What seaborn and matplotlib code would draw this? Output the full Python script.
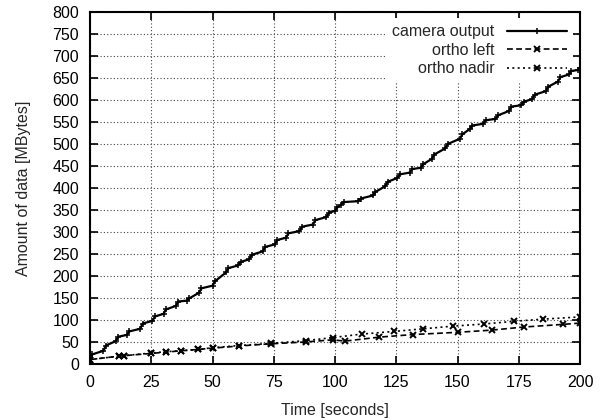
import matplotlib
matplotlib.use("Agg")
import matplotlib.pyplot as plt
import seaborn as sns
import pandas as pd

camera_time = [0, 1, 5.5, 6.5, 10.5, 11.5, 15, 16, 20.5, 21.5, 25.5, 26.5, 30, 31, 35, 36, 39.5, 40.5, 44.5, 45.5,
               50, 51, 55.5, 56.5, 60.5, 61.5, 65, 66, 70.5, 71.5, 75.5, 76.5, 80, 81, 85.5, 86.5, 91, 92, 96.5, 97.5,
               100, 101, 102.5, 103.5, 109.5, 110.5, 115.5, 116.5, 120.5, 121.5, 125.5, 126.5, 130.5, 131.5, 135, 136, 139.5, 140.5, 145, 146,
               151, 152, 155, 156, 160.5, 161.5, 165.5, 166.5, 171, 172, 176, 177, 180.5, 181.5, 186, 187, 191, 192, 195.5, 196.5,
               199, 200]
camera_mb = [18, 22, 30, 42, 52, 62, 66, 74, 80, 92, 98, 108, 114, 124, 132, 142, 144, 149, 162, 172,
             178, 188, 208, 218, 224, 232, 238, 248, 256, 266, 272, 282, 287, 297, 302, 312, 317, 327, 334, 344,
             348, 356, 362, 368, 370, 376, 383, 391, 404, 414, 423, 431, 435, 443, 446, 454, 466, 476, 490, 500,
             512, 522, 534, 542, 546, 554, 557, 565, 575, 585, 588, 596, 602, 612, 620, 630, 642, 652, 658, 666,
             668, 672]

ortho_left_time = [0, 12, 14, 25, 31, 37, 44, 50, 61, 74, 88, 99, 104, 118, 132, 150, 164, 177, 193, 200]
ortho_left_mb = [10, 18, 19, 24, 27, 30, 33, 36, 41, 46, 50, 55, 52, 61, 67, 72, 77, 84, 90, 93]
ortho_nadir_time = [0, 12, 14, 25, 31, 37, 44, 50, 61, 74, 88, 99, 111, 124, 136, 148, 161, 173, 185, 200]
ortho_nadir_mb = [10, 18, 19, 25, 28, 30, 33, 37, 42, 47, 53, 60, 68, 74, 80, 86, 91, 97, 102, 107]

x_ticks = [0, 25, 50, 75, 100, 125, 150, 175, 200]
y_ticks = list(range(0, 801, 50))

sns.set_style("ticks")
plt.rcParams['font.family'] = ['Liberation Sans', 'DejaVu Sans']

fig = plt.figure(figsize=(6.05, 4.18), dpi=100)
ax = fig.add_axes([90/605, 1-364/418, 490/605, 352/418])

asterisk = 'x'
sns.lineplot(x=camera_time, y=camera_mb, ax=ax, color='black', linewidth=1.6, marker='+',
             markersize=4.5, markeredgewidth=1.1, markeredgecolor='black', label='camera output',
             zorder=4, sort=False)
ax.lines[-1].set_linestyle('-')
sns.lineplot(x=ortho_left_time, y=ortho_left_mb, ax=ax, color='black', linewidth=1.2,
             marker=asterisk, markersize=5, markeredgewidth=1.4, markeredgecolor='black',
             label='ortho left', zorder=3, sort=False)
ax.lines[-1].set_linestyle((0, (3.5, 2)))
sns.lineplot(x=ortho_nadir_time, y=ortho_nadir_mb, ax=ax, color='black', linewidth=1.2,
             marker=asterisk, markersize=5, markeredgewidth=1.4, markeredgecolor='black',
             label='ortho nadir', zorder=3, sort=False)
ax.lines[-1].set_linestyle((0, (1.2, 2)))

ax.set_xlim(0, 200)
ax.set_ylim(0, 800)
ax.set_xticks(x_ticks)
ax.set_yticks(y_ticks)
ax.set_xticklabels([str(v) for v in x_ticks])
ax.set_yticklabels([str(v) for v in y_ticks])
ax.tick_params(direction='in', length=6, width=1.2, top=True, right=True, labelsize=11.5, pad=8, colors='black')
ax.grid(True, linestyle=(0, (1, 2)), color='#444444', linewidth=0.8)
ax.set_axisbelow(True)
for s in ax.spines.values():
    s.set_linewidth(1.5)
    s.set_color('black')

ax.set_xlabel('Time [seconds]', fontsize=11.5, labelpad=9)
ax.set_ylabel('Amount of data [MBytes]', fontsize=11.5, labelpad=15)

leg = ax.legend(loc='upper right', bbox_to_anchor=((573 - 90) / 490, (364 - 18) / 352),
                borderaxespad=0, markerfirst=False, frameon=True, fontsize=11.5,
                handlelength=3.75, handletextpad=0.75, labelspacing=0.22, borderpad=0.4,
                fancybox=False)
leg.get_frame().set_edgecolor('none')
leg.get_frame().set_facecolor('white')
leg.get_frame().set_alpha(1)
leg.set_zorder(2.7)
for h in leg.get_lines():
    h.set_markeredgecolor('black')

fig.savefig('out.png', dpi=100)
